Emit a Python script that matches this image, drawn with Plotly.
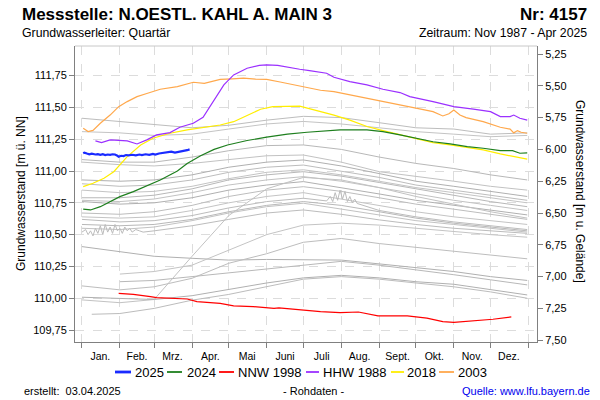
import plotly.graph_objects as go

# ---------------- data ----------------
ground_level = 117.17  # m ü. NN (Geländehöhe)

month_start_days = [0, 31, 59, 90, 120, 151, 181, 212, 243, 273, 304, 334, 365]
month_mid_days = [15, 45, 74, 105, 135, 166, 196, 227, 258, 288, 319, 349]
month_labels = ["Jan.", "Feb.", "Mrz.", "Apr.", "Mai", "Juni", "Juli", "Aug.",
                "Sept.", "Okt.", "Nov.", "Dez."]

left_ticks = [109.75, 110.00, 110.25, 110.50, 110.75, 111.00, 111.25, 111.50, 111.75]
left_ticktext = ["109,75", "110,00", "110,25", "110,50", "110,75", "111,00", "111,25", "111,50", "111,75"]
right_ticks = [5.25, 5.50, 5.75, 6.00, 6.25, 6.50, 6.75, 7.00, 7.25, 7.50]
right_ticktext = ["5,25", "5,50", "5,75", "6,00", "6,25", "6,50", "6,75", "7,00", "7,25", "7,50"]

# colored years
d2025 = [1, 2, 4, 6, 8, 11, 13, 15, 17, 19, 21, 23, 25, 27, 29, 30, 32, 34, 36, 38, 41, 44, 47, 49,
         52, 55, 58, 60, 63, 66, 68, 71, 73, 76, 78, 81, 84, 86, 88]
v2025 = [111.14, 111.145, 111.138, 111.132, 111.136, 111.13, 111.133, 111.128, 111.132, 111.126,
         111.13, 111.127, 111.132, 111.13, 111.12, 111.113, 111.12, 111.118, 111.126, 111.124,
         111.128, 111.124, 111.13, 111.126, 111.132, 111.128, 111.134, 111.13, 111.138, 111.142,
         111.146, 111.15, 111.152, 111.145, 111.15, 111.156, 111.16, 111.164, 111.17]

d2024 = [1, 7, 15, 23, 31, 42, 45, 56, 64, 78, 86, 97, 108, 119, 135, 151, 168, 184, 195, 211,
         233, 246, 260, 274, 287, 301, 315, 328, 342, 352, 358, 364]
v2024 = [110.70, 110.694, 110.72, 110.76, 110.799, 110.838, 110.85, 110.899, 110.93, 111.00,
         111.06, 111.12, 111.17, 111.205, 111.24, 111.266, 111.29, 111.305, 111.31, 111.323,
         111.323, 111.31, 111.284, 111.258, 111.23, 111.213, 111.192, 111.179, 111.16, 111.16,
         111.14, 111.143]

d_nnw1998 = [30, 42, 56, 61, 86, 94, 113, 124, 140, 157, 161, 173, 187, 195, 211, 226, 242, 266,
             282, 295, 304, 323, 336, 351]
v_nnw1998 = [110.039, 110.031, 110.013, 110.005, 109.994, 109.973, 109.96, 109.94, 109.934,
             109.921, 109.925, 109.914, 109.90, 109.895, 109.887, 109.892, 109.861, 109.861,
             109.843, 109.816, 109.811, 109.822, 109.835, 109.853]

d_hhw1988 = [11, 16, 23, 37, 45, 53, 61, 72, 80, 91, 99, 108, 116, 124, 135, 145, 151, 160, 168,
             178, 186, 200, 206, 219, 233, 246, 260, 268, 287, 304, 320, 334, 342, 350, 353, 358, 364]
v_hhw1988 = [111.237, 111.223, 111.245, 111.237, 111.213, 111.245, 111.284, 111.302, 111.344,
             111.376, 111.423, 111.559, 111.677, 111.756, 111.808, 111.83, 111.834, 111.83,
             111.815, 111.80, 111.79, 111.769, 111.737, 111.703, 111.677, 111.643, 111.617,
             111.585, 111.546, 111.506, 111.486, 111.467, 111.428, 111.428, 111.44, 111.415, 111.40]

d2018 = [1, 9, 18, 26, 37, 48, 58, 72, 86, 99, 113, 124, 135, 146, 156, 173, 178, 192, 206, 219,
         233, 246, 260, 274, 287, 301, 314, 328, 342, 355, 364]
v2018 = [110.877, 110.904, 110.943, 110.995, 111.113, 111.205, 111.258, 111.297, 111.323, 111.344,
         111.362, 111.388, 111.44, 111.486, 111.506, 111.506, 111.51, 111.475, 111.44, 111.40,
         111.35, 111.318, 111.284, 111.25, 111.223, 111.205, 111.187, 111.166, 111.135, 111.108,
         111.093]

d2003 = [1, 5, 9, 15, 23, 30, 37, 45, 53, 64, 78, 91, 100, 113, 123, 132, 142, 151, 162, 173, 186,
         195, 206, 219, 233, 246, 260, 273, 287, 295, 300, 304, 309, 314, 328, 342, 350, 353, 356,
         359, 364]
v2003 = [111.336, 111.31, 111.32, 111.376, 111.44, 111.506, 111.546, 111.585, 111.61, 111.643,
         111.664, 111.698, 111.69, 111.72, 111.725, 111.73, 111.722, 111.72, 111.70, 111.677,
         111.648, 111.635, 111.624, 111.60, 111.572, 111.548, 111.52, 111.495, 111.467, 111.433,
         111.45, 111.48, 111.44, 111.42, 111.388, 111.344, 111.33, 111.30, 111.318, 111.305, 111.297]

# other years (grey), monthly readings
gray_days = [0, 31, 59, 90, 120, 151, 181, 212, 243, 273, 304, 334, 364]
gray_years = [
    [111.415, 111.39, 111.37, 111.34, 111.36, 111.40, 111.43, 111.42, 111.38, 111.34, 111.33, 111.29, 111.30],
    [111.31, 111.30, 111.28, 111.29, 111.33, 111.37, 111.39, 111.37, 111.34, 111.31, 111.29, 111.27, 111.28],
    [111.09, 111.07, 111.07, 111.11, 111.16, 111.20, 111.205, 111.17, 111.11, 111.06, 111.02, 110.97, 110.93],
    [111.07, 111.05, 111.04, 111.06, 111.09, 111.12, 111.126, 111.07, 110.995, 110.96, 110.92, 110.88, 110.85],
    [110.93, 110.92, 110.93, 110.97, 111.03, 111.07, 111.087, 111.04, 110.98, 110.92, 110.88, 110.84, 110.80],
    [110.90, 110.88, 110.89, 110.93, 110.99, 111.03, 111.047, 111.00, 110.95, 110.89, 110.85, 110.81, 110.77],
    [110.85, 110.83, 110.84, 110.88, 110.94, 110.99, 111.01, 110.97, 110.92, 110.87, 110.83, 110.79, 110.75],
    [110.79, 110.79, 110.81, 110.86, 110.93, 110.97, 110.995, 110.96, 110.91, 110.86, 110.81, 110.76, 110.72],
    [110.77, 110.76, 110.78, 110.83, 110.89, 110.93, 110.956, 110.92, 110.87, 110.82, 110.77, 110.73, 110.69],
    [110.76, 110.74, 110.75, 110.79, 110.85, 110.89, 110.917, 110.87, 110.82, 110.77, 110.73, 110.69, 110.655],
    [110.67, 110.66, 110.68, 110.73, 110.80, 110.85, 110.877, 110.84, 110.79, 110.74, 110.70, 110.66, 110.62],
    [110.64, 110.63, 110.64, 110.69, 110.75, 110.80, 110.83, 110.78, 110.73, 110.68, 110.64, 110.61, 110.58],
    [110.58, 110.57, 110.58, 110.62, 110.68, 110.73, 110.76, 110.73, 110.68, 110.63, 110.59, 110.56, 110.53],
    [110.55, 110.54, 110.56, 110.61, 110.67, 110.72, 110.747, 110.70, 110.655, 110.61, 110.58, 110.55, 110.52],
    [110.406, 110.367, 110.33, 110.314, 110.30, 110.305, 110.305, 110.30, 110.27, 110.24, 110.21, 110.17, 110.14],
    [110.097, 110.066, 110.09, 110.157, 110.275, 110.35, 110.44, 110.47, 110.43, 110.40, 110.37, 110.34, 110.31],
    [None, 110.19, 110.21, 110.26, 110.38, 110.50, 110.575, 110.59, 110.575, 110.55, 110.52, 110.50, 110.48],
    [None, 110.13, 110.14, 110.17, 110.20, 110.23, 110.26, 110.29, 110.26, 110.225, 110.185, 110.145, 110.105],
    [109.987, 109.965, 109.99, 110.33, 110.65, 110.86, 110.95, 110.93, 110.87, 110.80, 110.74, 110.68, 110.63],
    [110.008, 110.00, 109.99, 110.02, 110.07, 110.12, 110.16, 110.18, 110.16, 110.13, 110.11, 110.065, 110.026],
]

# grey years with short-term fluctuations
gray_wiggle_a_days = [0, 3, 5, 7, 9, 11, 13, 15, 17, 19, 21, 23, 25, 27, 29, 31, 33, 35, 37, 39, 41, 44,
                      47, 50, 59, 90, 120, 151, 181, 212, 243, 273, 304, 334, 364]
gray_wiggle_a = [110.52, 110.54, 110.50, 110.53, 110.49, 110.55, 110.51, 110.57, 110.50, 110.58,
                 110.52, 110.56, 110.51, 110.58, 110.53, 110.55, 110.51, 110.56, 110.53, 110.55,
                 110.52, 110.54, 110.53, 110.52, 110.53, 110.57, 110.62, 110.67, 110.694, 110.66,
                 110.616, 110.58, 110.55, 110.53, 110.51]
gray_wiggle_b_days = [0, 31, 59, 90, 120, 151, 181, 200, 203, 205, 207, 209, 211, 213, 215, 217, 219,
                      221, 223, 225, 243, 273, 304, 334, 364]
gray_wiggle_b = [110.62, 110.60, 110.61, 110.65, 110.71, 110.76, 110.786, 110.765, 110.80, 110.76,
                 110.83, 110.77, 110.85, 110.78, 110.84, 110.76, 110.80, 110.75, 110.78, 110.745,
                 110.69, 110.64, 110.60, 110.57, 110.54]
gray_low_days = [8, 31, 59, 90, 120, 151, 181, 212, 243, 273, 304, 334, 364]
gray_low = [109.874, 109.88, 109.92, 109.985, 110.03, 110.09, 110.15, 110.17, 110.15, 110.12,
            110.09, 110.05, 110.00]

# legend entries (label, colour, line width)
legend_names = ["2025", "2024", "NNW 1998", "HHW 1988", "2018", "2003"]
legend_colors = ["#1A2BFF", "#1E7F1E", "#FF0000", "#9B30FF", "#FFEE00", "#FFA84C"]
legend_widths = [2.2, 1.2, 1.2, 1.2, 1.2, 1.2]

# ---------------- figure ----------------
FONT = "Liberation Sans, Arial, sans-serif"
y_range = [109.656, 111.983]
x_range = [-5.7, 372.0]

fig = go.Figure()

gray_cols = ["#bdbdbd", "#c4c4c4", "#b8b8b8", "#c2c2c2", "#b0b0b0"]
for i, vals in enumerate(gray_years):
    fig.add_trace(go.Scatter(x=gray_days, y=vals, mode="lines",
                             line=dict(color=gray_cols[i % len(gray_cols)], width=1),
                             showlegend=False, hoverinfo="skip"))
for dd, vv in [(gray_wiggle_a_days, gray_wiggle_a), (gray_wiggle_b_days, gray_wiggle_b),
               (gray_low_days, gray_low)]:
    fig.add_trace(go.Scatter(x=dd, y=vv, mode="lines",
                             line=dict(color="#bcbcbc", width=1),
                             showlegend=False, hoverinfo="skip"))

col = dict(zip(legend_names, legend_colors))
wid = dict(zip(legend_names, legend_widths))
series = [
    ("2003", d2003, v2003),
    ("2018", d2018, v2018),
    ("HHW 1988", d_hhw1988, v_hhw1988),
    ("NNW 1998", d_nnw1998, v_nnw1998),
    ("2024", d2024, v2024),
    ("2025", d2025, v2025),
]
for name, dd, vv in series:
    fig.add_trace(go.Scatter(x=dd, y=vv, mode="lines", name=name,
                             line=dict(color=col[name], width=wid[name]), showlegend=False))

# invisible trace to carry the right-hand depth axis
fig.add_trace(go.Scatter(x=d_nnw1998, y=[ground_level - v for v in v_nnw1998],
                         yaxis="y2", mode="lines", line=dict(color="rgba(0,0,0,0)"),
                         showlegend=False, hoverinfo="skip"))

fig.update_layout(
    width=600, height=400,
    margin=dict(l=75, r=63, t=46, b=58),
    paper_bgcolor="white", plot_bgcolor="white",
    font=dict(family=FONT, size=11, color="#000"),
    hovermode=False,
    showlegend=False,
    xaxis=dict(
        range=x_range, tickmode="array", tickvals=month_mid_days, ticktext=month_labels,
        ticks="", showgrid=False, zeroline=False, automargin=False,
        showline=True, linecolor="#808080", linewidth=1,
        tickfont=dict(size=10.5), ticklabelstandoff=4,
        minor=dict(tickmode="array", tickvals=month_start_days, ticks="outside",
                   ticklen=5, tickcolor="#808080", showgrid=True,
                   gridcolor="#dcdcdc", griddash="dash", gridwidth=1),
    ),
    yaxis=dict(
        range=y_range, tickmode="array", tickvals=left_ticks, ticktext=left_ticktext,
        ticks="outside", ticklen=5, tickcolor="#808080", automargin=False,
        showgrid=True, gridcolor="#dcdcdc", griddash="dash", zeroline=False,
        showline=True, linecolor="#808080", linewidth=1, tickfont=dict(size=11),
    ),
    yaxis2=dict(
        overlaying="y", side="right", automargin=False,
        range=[ground_level - y_range[0], ground_level - y_range[1]],
        tickmode="array", tickvals=right_ticks, ticktext=right_ticktext,
        ticks="outside", ticklen=5, tickcolor="#808080",
        showgrid=False, zeroline=False,
        showline=True, linecolor="#808080", linewidth=1, tickfont=dict(size=11),
    ),
)

W, H, L, B = 462.0, 296.0, 75.0, 342.0
def px(x):
    return (x - L) / W
def py(y):
    return (B - y) / H

shapes = [dict(type="line", xref="paper", yref="paper", x0=0, x1=1, y0=1, y1=1,
               line=dict(color="#c8c8c8", width=1))]

ann = [
    dict(text="<b>Messstelle: N.OESTL. KAHL A. MAIN 3</b>", x=px(20), y=py(15), xanchor="left",
         font=dict(size=17)),
    dict(text="<b>Nr: 4157</b>", x=px(589), y=py(15), xanchor="right", font=dict(size=17)),
    dict(text="Grundwasserleiter: Quartär", x=px(20), y=py(33), xanchor="left",
         font=dict(size=12.3)),
    dict(text="Zeitraum: Nov 1987 - Apr 2025", x=px(589), y=py(33), xanchor="right",
         font=dict(size=12.3)),
    dict(text="Grundwasserstand [m ü. NN]", x=px(21), y=py(194), xanchor="center",
         textangle=-90, font=dict(size=12)),
    dict(text="Grundwasserstand [m u. Gelände]", x=px(580), y=py(191), xanchor="center",
         textangle=90, font=dict(size=12)),
    dict(text="erstellt:  03.04.2025", x=px(22), y=py(391), xanchor="left", font=dict(size=11)),
    dict(text="- Rohdaten -", x=px(313), y=py(391), xanchor="center", font=dict(size=11)),
    dict(text="Quelle: www.lfu.bayern.de", x=px(592), y=py(391), xanchor="right",
         font=dict(size=11, color="#0000EE")),
]

# legend: line sample + label for each series
legend_line_x = [(115, 131), (167, 182), (219, 234), (306, 319), (391, 404), (439, 454)]
legend_text_x = [133, 185, 236, 321, 405, 456]
legend_y = 372
for (x0, x1), tx, name, c, w in zip(legend_line_x, legend_text_x, legend_names,
                                    legend_colors, legend_widths):
    shapes.append(dict(type="line", xref="paper", yref="paper", x0=px(x0), x1=px(x1),
                       y0=py(legend_y), y1=py(legend_y), line=dict(color=c, width=w + 0.6)))
    ann.append(dict(text=name, x=px(tx), y=py(legend_y), xanchor="left", font=dict(size=13)))

for a in ann:
    a.update(xref="paper", yref="paper", showarrow=False, yanchor="middle")
fig.update_layout(annotations=ann, shapes=shapes)

fig.write_html("out.html", config={"displayModeBar": False},
               post_script="document.body.style.margin='0px';")
